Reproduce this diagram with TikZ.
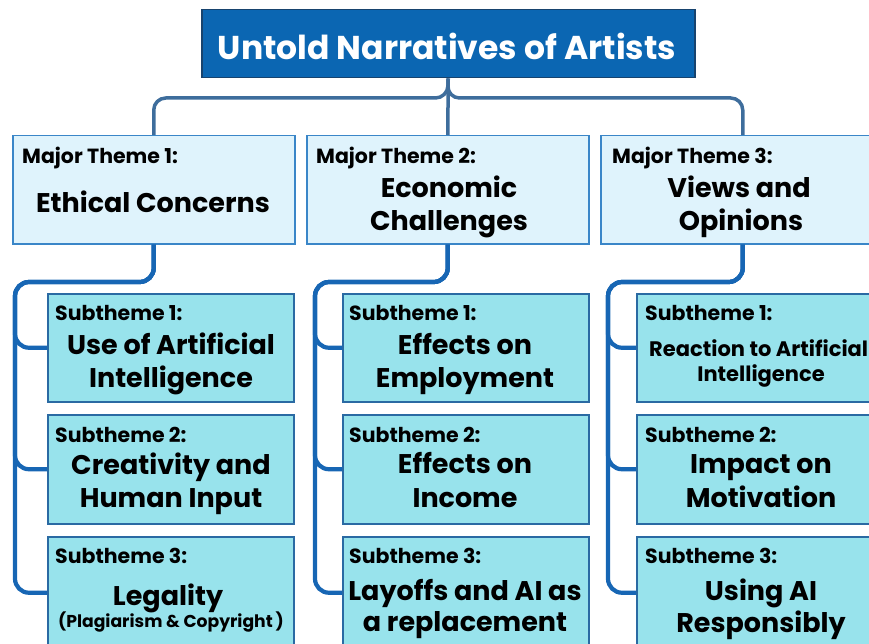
\documentclass[tikz,border=0pt]{standalone}
\usepackage{fontspec}
\setmainfont{Poppins}
\definecolor{topfill}{HTML}{0B66B2}
\definecolor{topdraw}{HTML}{17436E}
\definecolor{majfill}{HTML}{DFF3FC}
\definecolor{majdraw}{HTML}{3A86C8}
\definecolor{subfill}{HTML}{98E3EC}
\definecolor{subdraw}{HTML}{2A6AA3}
\definecolor{linkA}{HTML}{3E6D9C}
\definecolor{linkB}{HTML}{1766B4}
\tikzset{
  topbox/.style={draw=topdraw, fill=topfill, line width=1.5pt, anchor=north west, inner sep=0pt},
  majbox/.style={draw=majdraw, fill=majfill, line width=1.5pt, anchor=north west, inner sep=0pt, minimum width=282pt, minimum height=108pt},
  subbox/.style={draw=subdraw, fill=subfill, line width=1.5pt, anchor=north west, inner sep=0pt, minimum width=246pt, minimum height=108pt},
  linkone/.style={draw=linkA, line width=3.5pt, rounded corners=12pt},
  linktwo/.style={draw=linkB, line width=4.2pt, rounded corners=14pt},
  lab/.style={inner sep=0pt, anchor=base west, font=\bfseries\fontsize{20.5}{22}\selectfont},
  ttl/.style={inner sep=0pt, anchor=base, font=\bfseries\fontsize{27}{30}\selectfont},
  small/.style={inner sep=0pt, anchor=base, font=\bfseries\fontsize{21}{23}\selectfont},
  tiny/.style={inner sep=0pt, anchor=base, font=\bfseries\fontsize{17.2}{19}\selectfont},
}
\begin{document}
\begin{tikzpicture}[x=1pt,y=-1pt]
\useasboundingbox (0,0) rectangle (869,644);
\clip (0,0) rectangle (869,644);
% boxes
\node[topbox, minimum width=493pt, minimum height=68pt] (t0) at (201,9) {};
\node[majbox] (m1) at (12,135) {};
\node[majbox] (m2) at (306,135) {};
\node[majbox, minimum width=284pt] (m3) at (600,135) {};
\node[subbox] (s11) at (47,293) {};
\node[subbox, minimum height=109pt] (s12) at (47,414) {};
\node[subbox, minimum height=112pt] (s13) at (47,536) {};
\node[subbox] (s21) at (342,293) {};
\node[subbox, minimum height=109pt] (s22) at (342,414) {};
\node[subbox, minimum height=112pt] (s23) at (342,536) {};
\node[subbox] (s31) at (636,293) {};
\node[subbox, minimum height=109pt] (s32) at (636,414) {};
\node[subbox, minimum height=112pt] (s33) at (636,536) {};
% top connectors
\coordinate (hub) at (447.5,98);
\draw[linkone] (t0.south) -- (hub) -| (m1.north);
\draw[linkone] (t0.south) -- (hub) -| (m3.north);
\draw[linkone, rounded corners=0pt] (t0.south) -- (m2.north);
% sub connectors
\coordinate (v1) at (15,282);
\coordinate (v2) at (315,282);
\coordinate (v3) at (608,282);
\foreach \c/\m in {1/m1,2/m2,3/m3}{
  \foreach \r in {1,2,3}{
    \draw[linktwo] (\m.south) |- (v\c) |- (s\c\r.west);
  }
}
% title
\node[inner sep=0pt, anchor=base, text=white, font=\bfseries\fontsize{33}{36}\selectfont] (tt) at (447,60) {Untold Narratives of Artists};
% major labels
\node[lab] (ml1) at (22,164) {Major Theme 1:};
\node[lab] (ml2) at (316,164) {Major Theme 2:};
\node[lab] (ml3) at (612,164) {Major Theme 3:};
\node[ttl] (mt1) at (153,213) {Ethical Concerns};
\node[ttl] (mt2a) at (449,198) {Economic};
\node[ttl] (mt2b) at (449,230) {Challenges};
\node[ttl] (mt3a) at (739,198) {Views and};
\node[ttl] (mt3b) at (741,230) {Opinions};
% subtheme labels
\foreach \c/\x in {1/55,2/349,3/645}{
  \node[lab] (sl\c1) at (\x,320) {Subtheme 1:};
  \node[lab] (sl\c2) at (\x,442) {Subtheme 2:};
  \node[lab] (sl\c3) at (\x,563) {Subtheme 3:};
}
\node[ttl] (a1) at (171,354) {Use of Artificial};
\node[ttl] (a2) at (171,387) {Intelligence};
\node[ttl] (b1) at (171,474) {Creativity and};
\node[ttl] (b2) at (171,507) {Human Input};
\node[ttl] (c1) at (168,605) {Legality};
\node[tiny] (c2) at (171,627) {(Plagiarism \& Copyright\,)};
\node[ttl] (d1) at (465,354) {Effects on};
\node[ttl] (d2) at (465,387) {Employment};
\node[ttl] (e1) at (465,473) {Effects on};
\node[ttl] (e2) at (465,507) {Income};
\node[ttl] (f1) at (465,600) {Layoffs and AI as};
\node[ttl] (f2) at (465,631) {a replacement};
\node[small, anchor=base west] (g1) at (649,356) {Reaction to Artificial};
\node[small] (g2) at (761,381) {Intelligence};
\node[ttl] (h1) at (761,473) {Impact on};
\node[ttl] (h2) at (761,507) {Motivation};
\node[ttl] (k1) at (761,600) {Using AI};
\node[ttl] (k2) at (761,632) {Responsibly};
\end{tikzpicture}
\end{document}
